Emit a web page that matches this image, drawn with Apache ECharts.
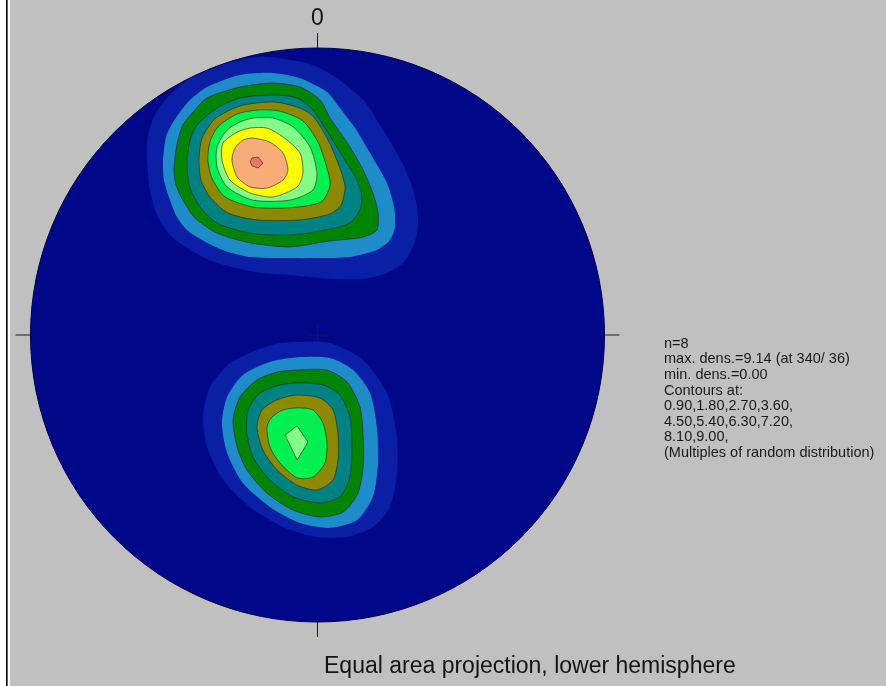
<!DOCTYPE html>
<html>
<head>
<meta charset="utf-8">
<title>Equal area projection, lower hemisphere</title>
<script src="https://cdn.jsdelivr.net/npm/echarts@6/dist/echarts.min.js"></script>
<style>
html, body { margin: 0; padding: 0; background: #c0c0c0; }
#main { width: 886px; height: 686px; }
</style>
</head>
<body>
<div id="main"></div>
<script>
// contour levels, multiples of random distribution
const levels = [0.9, 1.8, 2.7, 3.6, 4.5, 5.4, 6.3, 7.2, 8.1, 9.0]
const levelColors = ['#0a1ea6', '#1e8cc8', '#048404', '#008282', '#8c8a04', '#04f050', '#84fc88', '#fcfc04', '#f8ac78', '#e87864']

// contour outlines read off the net: x east, y north, net radius = 100
// northern cluster
const north09 = [[-59.4, 61.0], [-59.1, 69.7], [-56.6, 76.7], [-52.1, 82.9], [-46.2, 88.2], [-39.2, 92.0], [-30.5, 95.1], [-20.7, 96.9], [-11.3, 96.2], [-2.6, 94.4], [5.1, 90.6], [11.3, 86.1], [16.6, 81.2], [21.8, 73.2], [27.7, 63.4], [32.2, 54.0], [34.7, 44.6], [35.0, 37.3], [33.3, 30.7], [29.8, 25.1], [24.2, 21.6], [15.9, 19.5], [6.1, 19.5], [-6.1, 20.6], [-16.6, 21.3], [-25.3, 22.6], [-35.7, 25.4], [-44.4, 29.6], [-51.4, 34.8], [-55.9, 41.8], [-58.4, 50.5]]
const north18 = [[-53.8, 61.0], [-52.8, 69.0], [-50.3, 74.2], [-45.1, 81.2], [-38.5, 86.4], [-27.0, 90.6], [-15.5, 91.3], [-6.1, 89.5], [3.3, 84.7], [7.8, 79.1], [13.1, 72.1], [18.3, 63.4], [24.2, 53.0], [26.7, 44.6], [27.0, 37.6], [25.3, 33.1], [20.7, 29.6], [11.3, 27.2], [0.9, 26.8], [-11.3, 26.8], [-23.5, 27.2], [-32.2, 29.3], [-38.5, 32.1], [-45.1, 36.2], [-49.0, 41.1], [-51.4, 47.0], [-53.5, 54.0]]
const north27 = [[-50.0, 57.5], [-49.0, 66.2], [-46.9, 73.2], [-42.7, 78.4], [-38.5, 82.6], [-27.0, 86.4], [-15.5, 87.8], [-6.1, 86.4], [0.9, 81.9], [4.4, 75.6], [11.3, 65.5], [15.9, 57.5], [19.3, 49.5], [21.1, 42.5], [20.7, 36.6], [15.9, 34.1], [4.4, 32.8], [-9.6, 30.7], [-23.5, 32.1], [-35.0, 35.5], [-42.7, 40.8], [-46.9, 47.0], [-49.3, 52.3]]
const north36 = [[-45.5, 59.2], [-44.4, 67.9], [-42.0, 73.2], [-35.0, 79.1], [-27.0, 82.6], [-15.5, 83.6], [-7.1, 82.6], [-1.6, 78.4], [3.7, 70.4], [8.9, 62.0], [13.8, 54.0], [15.5, 48.1], [14.8, 43.6], [11.3, 39.0], [4.4, 36.9], [-9.6, 34.8], [-23.5, 35.5], [-35.0, 39.0], [-40.9, 44.6], [-44.4, 51.2]]
const north45 = [[-41.3, 61.0], [-40.2, 68.6], [-35.7, 75.3], [-27.0, 79.8], [-15.5, 81.2], [-7.1, 79.4], [-1.6, 76.3], [3.7, 67.9], [7.8, 58.2], [9.6, 51.6], [8.2, 45.3], [4.4, 42.2], [-6.1, 40.1], [-21.1, 40.1], [-31.2, 42.5], [-37.5, 48.1], [-40.6, 54.0]]
const north54 = [[-38.2, 61.0], [-37.5, 67.2], [-34.7, 72.5], [-28.0, 77.0], [-20.7, 78.4], [-13.1, 78.0], [-5.1, 74.6], [0.2, 67.2], [3.0, 59.2], [4.4, 52.3], [1.2, 46.3], [-10.6, 44.3], [-22.5, 44.6], [-32.2, 48.1], [-36.8, 54.7]]
const north63 = [[-35.0, 65.5], [-31.5, 71.4], [-27.0, 74.2], [-22.5, 75.6], [-15.5, 75.6], [-8.5, 72.5], [-2.6, 65.5], [-0.2, 56.4], [-1.6, 50.5], [-9.6, 47.0], [-22.5, 47.0], [-31.5, 51.6], [-35.0, 58.5]]
const north72 = [[-32.9, 66.9], [-28.0, 70.7], [-23.5, 72.1], [-17.6, 72.1], [-12.0, 69.0], [-6.1, 63.4], [-5.1, 56.4], [-7.1, 51.6], [-15.5, 48.1], [-23.5, 49.5], [-30.5, 54.0], [-33.3, 61.0]]
const north81 = [[-26.0, 67.9], [-22.5, 68.6], [-16.6, 67.2], [-12.0, 63.4], [-10.3, 57.5], [-12.0, 54.0], [-17.6, 51.2], [-23.5, 51.6], [-28.0, 55.1], [-29.8, 61.0], [-28.7, 65.2]]
const north90 = [[-22.8, 61.7], [-20.7, 62.0], [-19.0, 59.9], [-20.7, 58.2], [-22.8, 58.9], [-23.5, 60.3]]

// southern cluster
const south09 = [[-6.1, -2.4], [4.4, -2.8], [15.9, -8.7], [24.2, -20.2], [27.7, -35.5], [27.7, -48.1], [25.3, -59.9], [19.3, -66.9], [10.3, -70.4], [-0.2, -70.4], [-12.0, -66.9], [-23.5, -59.9], [-32.9, -50.5], [-38.5, -39.0], [-39.9, -28.6], [-37.5, -18.1], [-30.5, -9.8], [-21.1, -5.2], [-13.1, -2.8]]
const south18 = [[-6.1, -7.7], [4.4, -8.0], [12.4, -12.2], [18.3, -20.2], [20.7, -32.1], [21.1, -44.6], [19.3, -56.4], [13.8, -64.5], [4.4, -67.2], [-6.1, -65.5], [-16.6, -59.9], [-26.0, -51.6], [-31.5, -41.1], [-33.3, -30.7], [-31.5, -21.6], [-26.0, -13.9], [-16.6, -9.4]]
const south27 = [[-6.1, -12.2], [3.3, -12.2], [10.3, -16.4], [14.8, -25.1], [15.9, -35.5], [15.9, -46.0], [14.1, -55.1], [8.9, -61.7], [0.9, -63.4], [-8.5, -61.0], [-17.6, -55.1], [-24.6, -47.0], [-28.0, -39.0], [-29.4, -29.6], [-27.0, -21.6], [-21.1, -15.7], [-14.1, -12.9]]
const south36 = [[-6.1, -16.7], [1.9, -17.4], [7.8, -20.9], [11.3, -28.6], [12.0, -39.0], [11.3, -49.5], [7.8, -56.4], [0.9, -58.5], [-8.5, -56.4], [-16.6, -50.5], [-22.5, -42.5], [-24.6, -34.1], [-24.2, -26.1], [-20.0, -20.2], [-13.1, -17.4]]
const south45 = [[-7.1, -20.9], [0.9, -22.0], [5.4, -26.1], [7.1, -34.1], [7.1, -43.6], [5.4, -50.5], [-0.2, -54.0], [-7.1, -52.3], [-14.1, -47.0], [-19.0, -40.1], [-21.1, -32.1], [-19.3, -26.1], [-14.1, -22.6]]
const south54 = [[-7.1, -25.4], [-1.6, -26.1], [1.9, -30.7], [3.3, -37.6], [2.6, -44.6], [-1.6, -49.5], [-7.1, -49.8], [-13.1, -44.6], [-16.6, -39.0], [-17.6, -32.1], [-15.9, -28.6], [-12.0, -26.1]]
const south63 = [[-7.1, -31.7], [-3.3, -37.3], [-7.1, -43.6], [-11.3, -34.8]]

const northContours = [north09, north18, north27, north36, north45, north54, north63, north72, north81, north90]
const southContours = [south09, south18, south27, south36, south45, south54, south63]

const azimuthTicks = [0, 90, 180, 270]
const infoLines = [
  'n=8',
  'max. dens.=9.14 (at 340/ 36)',
  'min. dens.=0.00',
  'Contours at:',
  '0.90,1.80,2.70,3.60,',
  '4.50,5.40,6.30,7.20,',
  '8.10,9.00,',
  '(Multiples of random distribution)'
]
const caption = 'Equal area projection, lower hemisphere'

const fontFamily = '"Liberation Sans", Arial, sans-serif'

// every ring with the level it belongs to
const rings = []
northContours.forEach((ring, i) => rings.push({ ring, level: i }))
southContours.forEach((ring, i) => rings.push({ ring, level: i }))

const chart = echarts.init(document.getElementById('main'), null, { renderer: 'canvas' })

const option = {
  backgroundColor: '#c0c0c0',
  animation: false,
  title: {
    text: caption,
    left: 319,
    top: 650,
    textStyle: { fontFamily, fontSize: 23, fontWeight: 'normal', color: '#141414' }
  },
  grid: { left: 30.5, top: 48, width: 574, height: 574 },
  xAxis: { type: 'value', min: -100, max: 100, show: false },
  yAxis: { type: 'value', min: -100, max: 100, show: false },
  polar: { center: [317.5, 335], radius: 287 },
  angleAxis: {
    type: 'value',
    min: 0,
    max: 360,
    interval: 90,
    startAngle: 90,
    clockwise: true,
    z: 10,
    axisLine: { lineStyle: { color: '#00004a', width: 1 } },
    axisTick: { length: 15, lineStyle: { color: '#1a1a1a', width: 1 } },
    axisLabel: {
      margin: 18,
      fontFamily,
      fontSize: 23,
      color: '#141414',
      formatter: v => (v === azimuthTicks[0] ? String(v) : '')
    },
    splitLine: { show: false }
  },
  radiusAxis: { min: 0, max: 100, show: false },
  graphic: [
    { type: 'rect', left: 0, top: 0, shape: { width: 10, height: 686 }, style: { fill: '#ffffff' } },
    { type: 'rect', left: 6, top: 0, shape: { width: 1.6, height: 686 }, style: { fill: '#000000' } },
    {
      type: 'text',
      left: 664,
      top: 336,
      style: {
        text: infoLines.join('\n'),
        font: '14.5px ' + fontFamily,
        lineHeight: 15.6,
        fill: '#1a1a1a'
      }
    }
  ],
  series: [
    {
      // the net itself
      type: 'custom',
      coordinateSystem: 'cartesian2d',
      z: 1,
      silent: true,
      data: [[0, 0]],
      renderItem: (params, api) => {
        const c = api.coord([api.value(0), api.value(1)])
        const r = api.size([100, 100])[0]
        const arm = 10
        return {
          type: 'group',
          children: [
            { type: 'circle', shape: { cx: c[0], cy: c[1], r }, style: { fill: '#00088a' } },
            { type: 'line', shape: { x1: c[0] - arm, y1: c[1], x2: c[0] + arm, y2: c[1] }, style: { stroke: '#1a1a3a', lineWidth: 1 } },
            { type: 'line', shape: { x1: c[0], y1: c[1] - arm, x2: c[0], y2: c[1] + arm }, style: { stroke: '#1a1a3a', lineWidth: 1 } }
          ]
        }
      }
    },
    {
      // density contours
      type: 'custom',
      coordinateSystem: 'cartesian2d',
      z: 2,
      silent: true,
      data: rings.map((r, i) => [i, levels[r.level]]),
      renderItem: (params, api) => {
        const item = rings[params.dataIndex]
        const points = item.ring.map(p => api.coord(p))
        return {
          type: 'polygon',
          shape: { points, smooth: item.ring.length > 8 ? 0.25 : 0 },
          style: {
            fill: levelColors[item.level],
            stroke: item.level >= 2 ? 'rgba(28,36,28,0.75)' : null,
            lineWidth: 0.8
          }
        }
      }
    }
  ]
}

chart.setOption(option)
</script>
</body>
</html>
